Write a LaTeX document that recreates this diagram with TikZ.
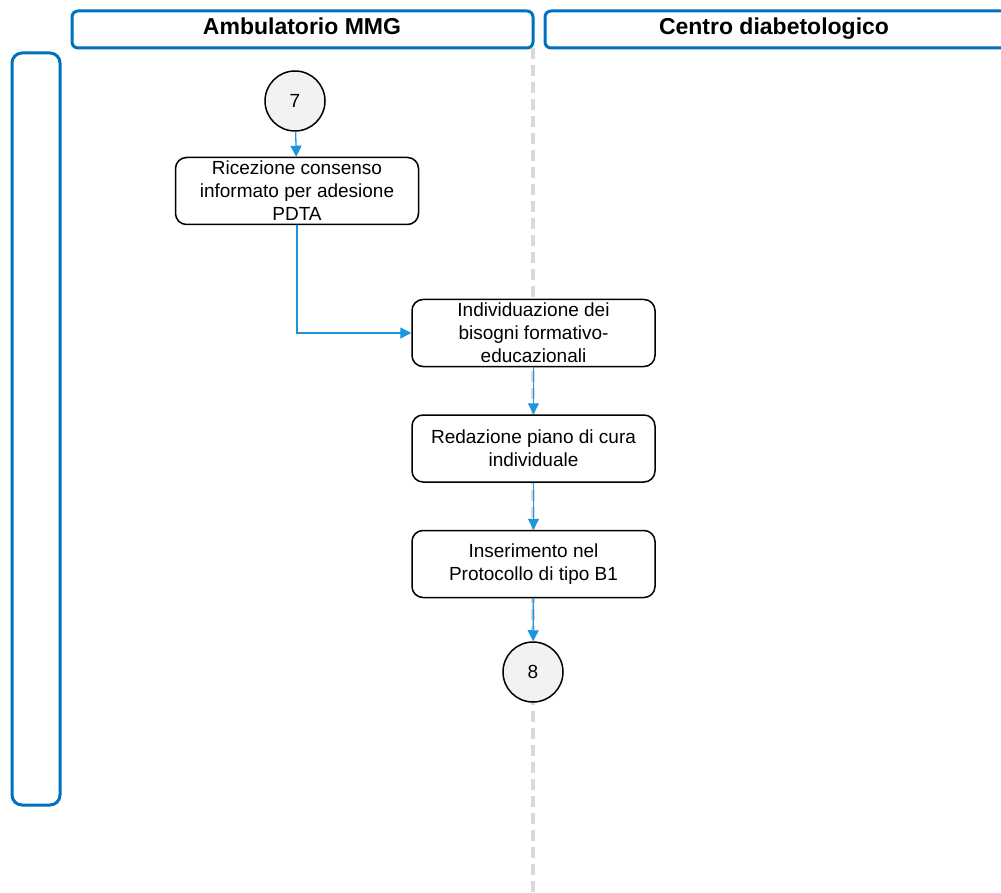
\documentclass[tikz,border=0pt]{standalone}
\usepackage{fontspec}
\setmainfont{Liberation Sans}
\usetikzlibrary{arrows.meta}
\definecolor{laneblue}{RGB}{0,112,192}
\definecolor{flowblue}{RGB}{27,150,222}
\definecolor{sepgray}{RGB}{217,217,217}
\definecolor{connfill}{RGB}{242,242,242}
\tikzset{
  lanehead/.style={draw=laneblue, line width=3pt, rounded corners=6pt, fill=white,
    minimum height=37pt, inner sep=0pt},
  headtext/.style={anchor=base, inner sep=0pt, font=\fontsize{23}{27}\selectfont\bfseries},
  stepbox/.style={draw=black, line width=1.5pt, rounded corners=11pt, fill=white,
    minimum width=243pt, minimum height=67pt, align=center, inner sep=0pt,
    font=\fontsize{19}{23}\selectfont},
  connector/.style={draw=black, line width=1.5pt, circle, fill=connfill,
    minimum size=60pt, inner sep=0pt, font=\fontsize{19}{23}\selectfont},
  flow/.style={draw=flowblue, line width=1.3pt, -{Triangle[length=11pt,width=11pt]}},
}
\begin{document}
\begin{tikzpicture}[x=1pt,y=-1pt]
\useasboundingbox (0,0) rectangle (1001,893);
% lane separator
\draw[sepgray, line width=4pt, dash pattern=on 11pt off 6pt] (533,48) -- (533,893);
% lane headers (the right one runs past the page edge)
\node[lanehead, minimum width=461pt] (hmmg) at (302.5,29.5) {};
\begin{scope}
\clip (540,0) rectangle (1001,893);
\node[lanehead, minimum width=470pt] (hcd) at (780,29.5) {};
\end{scope}
\node[headtext] (tmmg) at (302,35) {Ambulatorio MMG};
\node[headtext] (tcd) at (774,35) {Centro diabetologico};
% row label box
\node[draw=laneblue, line width=3pt, rounded corners=10pt, minimum width=48pt, minimum height=752pt, inner sep=0pt] (row) at (36,429) {};
% flow nodes
\node[connector] (c7) at (295,101) {7};
\node[stepbox] (s1) at (297,191) {Ricezione consenso\\informato per adesione\\PDTA};
\node[stepbox] (s2) at (533.5,333) {Individuazione dei\\bisogni formativo-\\educazionali};
\node[stepbox] (s3) at (533.5,448.5) {Redazione piano di cura\\individuale};
\node[stepbox] (s4) at (533.5,564) {Inserimento nel\\Protocollo di tipo B1};
\node[connector] (c8) at (533,672) {8};
% connectors
\draw[flow] (c7) -- (s1);
\draw[flow] (s1.south) |- (s2.west);
\draw[flow] (s2) -- (s3);
\draw[flow] (s3) -- (s4);
\draw[flow] (s4) -- (c8);
\end{tikzpicture}
\end{document}
